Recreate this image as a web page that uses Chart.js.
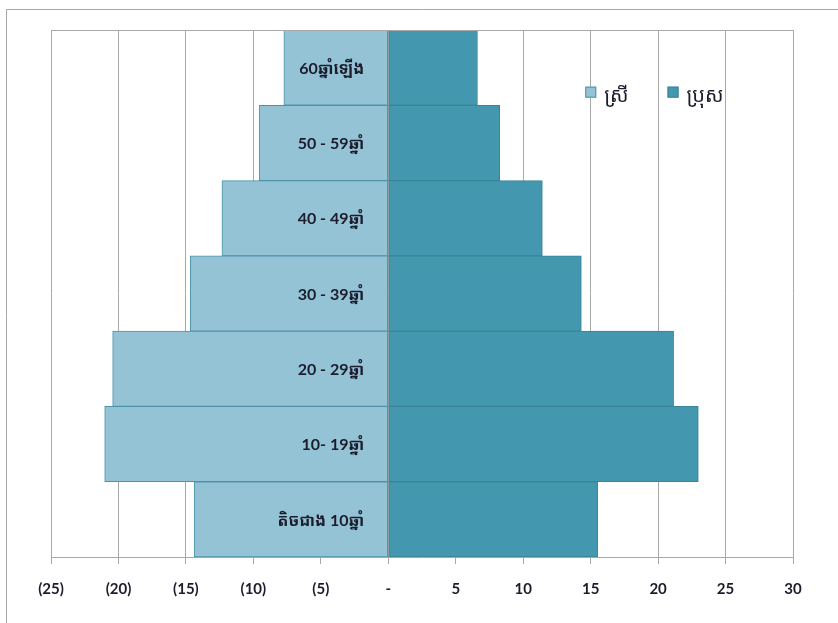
<!DOCTYPE html>
<html>
<head>
<meta charset="utf-8">
<script src="https://cdn.jsdelivr.net/npm/chart.js@4/dist/chart.umd.min.js"></script>
<style>
  html, body { margin: 0; padding: 0; background: #ffffff; }
  #wrap { position: relative; width: 838px; height: 623px; }
</style>
</head>
<body>
<div id="wrap"><canvas id="c" width="838" height="623"></canvas></div>
<script>
// ---- data ----
const categories = ['60ឆ្នាំឡើង', '50 - 59ឆ្នាំ', '40 - 49ឆ្នាំ', '30 - 39ឆ្នាំ', '20 - 29ឆ្នាំ', '10- 19ឆ្នាំ', 'តិចជាង 10ឆ្នាំ'];
const seriesNames = ['ស្រី', 'ប្រុស'];
const femaleValues = [-7.74, -9.57, -12.33, -14.68, -20.43, -21.02, -14.39];
const maleValues = [6.61, 8.26, 11.42, 14.31, 21.15, 22.98, 15.52];
const xTickValues = [-25, -20, -15, -10, -5, 0, 5, 10, 15, 20, 25, 30];

const KH_FONT = "Lato, 'Noto Sans Khmer', 'Khmer OS', 'DejaVu Sans', sans-serif";
const TEXT_COLOR = '#1c1c2c';
const GRID_COLOR = '#a8a8a8';

function fmtTick(v) {
  if (v === 0) return '-';
  if (v < 0) return '(' + Math.abs(v) + ')';
  return String(v);
}

const framePlugin = {
  id: 'frame',
  beforeDraw(chart) {
    const ctx = chart.ctx;
    ctx.save();
    ctx.strokeStyle = '#a6a6a6';
    ctx.lineWidth = 1;
    ctx.beginPath();
    ctx.moveTo(6.5, 623);
    ctx.lineTo(6.5, 9.5);
    ctx.lineTo(838, 9.5);
    ctx.stroke();
    ctx.restore();
  },
  afterDraw(chart) {
    const ctx = chart.ctx;
    const a = chart.chartArea;
    ctx.save();
    ctx.strokeStyle = GRID_COLOR;
    ctx.lineWidth = 1;
    ctx.beginPath();
    ctx.moveTo(a.left, Math.round(a.top) + 0.5);
    ctx.lineTo(a.right, Math.round(a.top) + 0.5);
    ctx.stroke();
    ctx.restore();
  }
};

const catLabelPlugin = {
  id: 'catLabels',
  afterDatasetsDraw(chart) {
    const ctx = chart.ctx;
    const xs = chart.scales.x, ys = chart.scales.y;
    const x0 = xs.getPixelForValue(0);
    ctx.save();
    ctx.fillStyle = TEXT_COLOR;
    ctx.font = "bold 16px " + KH_FONT;
    ctx.textAlign = 'right';
    ctx.textBaseline = 'middle';
    categories.forEach((lab, i) => {
      ctx.fillText(lab, x0 - 24, ys.getPixelForValue(i) + 1);
    });
    ctx.restore();
  }
};

const legendPlugin = {
  id: 'customLegend',
  afterDatasetsDraw(chart) {
    const ctx = chart.ctx;
    const xs = chart.scales.x, ys = chart.scales.y;
    const startX = xs.getPixelForValue(14.6);
    const cy = ys.getPixelForValue(0) + 25;
    const gap = xs.getPixelForValue(20.7) - startX;
    ctx.save();
    ctx.font = "20px " + KH_FONT;
    ctx.textBaseline = 'middle';
    ctx.textAlign = 'left';
    chart.data.datasets.forEach((ds, i) => {
      const x = startX + i * gap;
      ctx.fillStyle = ds.backgroundColor;
      ctx.strokeStyle = ds.borderColor;
      ctx.lineWidth = 1;
      ctx.fillRect(x, cy - 6, 11, 11);
      ctx.strokeRect(x + 0.5, cy - 5.5, 10, 10);
      ctx.fillStyle = TEXT_COLOR;
      ctx.fillText(ds.label, x + 19, cy + 3);
    });
    ctx.restore();
  }
};

new Chart(document.getElementById('c'), {
  type: 'bar',
  data: {
    labels: categories,
    datasets: [
      {
        label: seriesNames[0],
        data: femaleValues,
        backgroundColor: '#93c3d5',
        borderColor: '#4d93a8',
        borderWidth: 1,
        borderSkipped: false,
        barPercentage: 1,
        categoryPercentage: 1
      },
      {
        label: seriesNames[1],
        data: maleValues,
        backgroundColor: '#4397af',
        borderColor: '#3a8499',
        borderWidth: 1,
        borderSkipped: false,
        barPercentage: 1,
        categoryPercentage: 1
      }
    ]
  },
  options: {
    indexAxis: 'y',
    responsive: false,
    animation: false,
    devicePixelRatio: 1,
    layout: { padding: { left: 51, right: 45, top: 30, bottom: 16 } },
    plugins: {
      legend: { display: false },
      title: { display: false },
      tooltip: { enabled: false }
    },
    scales: {
      x: {
        stacked: true,
        min: -25,
        max: 30,
        afterBuildTicks(scale) { scale.ticks = xTickValues.map(v => ({ value: v })); },
        afterFit(scale) { scale.height = 50; },
        grid: {
          color: GRID_COLOR,
          lineWidth: 1,
          drawTicks: true,
          tickLength: 7,
          tickColor: GRID_COLOR
        },
        border: { display: true, color: GRID_COLOR, width: 1 },
        ticks: {
          autoSkip: false,
          maxRotation: 0,
          padding: 16,
          color: TEXT_COLOR,
          font: { family: "Lato, 'DejaVu Sans', sans-serif", size: 15, weight: 'bold' },
          callback: (v) => fmtTick(v)
        }
      },
      y: {
        stacked: true,
        display: false,
        grid: { display: false }
      }
    }
  },
  plugins: [framePlugin, catLabelPlugin, legendPlugin]
});
</script>
</body>
</html>
